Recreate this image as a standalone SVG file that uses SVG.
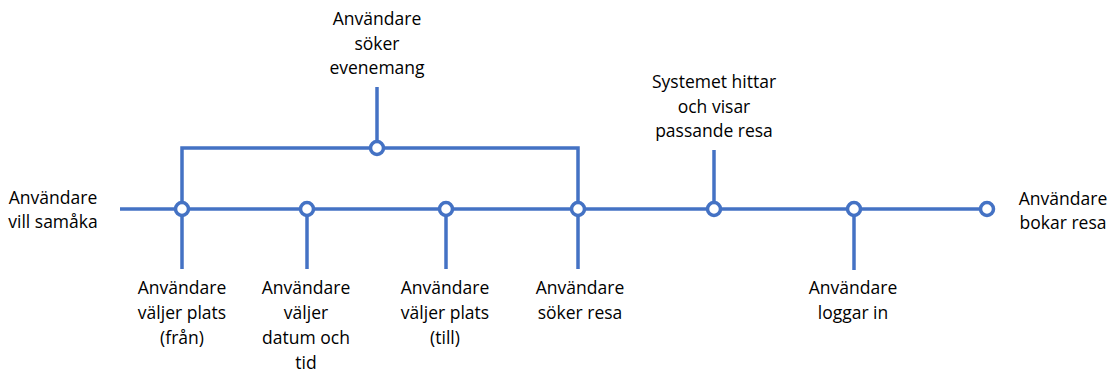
<svg xmlns="http://www.w3.org/2000/svg" width="1112" height="376" viewBox="0 0 1112 376">
  <style>
    .ln { stroke: #4472C4; stroke-width: 3.5; fill: none; }
    .pt { stroke: #4472C4; stroke-width: 3.5; fill: #ffffff; }
    .lbl { font-family: "Open Sans", "Liberation Sans", sans-serif; font-size: 17.5px; fill: #000000; text-anchor: middle; }
  </style>
  <rect width="1112" height="376" fill="#ffffff"/>

  <!-- timeline, bracket and stems -->
  <g id="connectors">
    <path class="ln" d="M120 209 H987"/>
    <path class="ln" d="M182 269 V148 H578 V269"/>
    <path class="ln" d="M377 148 V87"/>
    <path class="ln" d="M307 209 V269"/>
    <path class="ln" d="M446 209 V269"/>
    <path class="ln" d="M714 209 V150"/>
    <path class="ln" d="M854 209 V270"/>
  </g>

  <g id="start">
    <text class="lbl"><tspan x="53" y="204">Användare</tspan><tspan x="53" y="228">vill samåka</tspan></text>
  </g>

  <g id="from-place">
    <circle class="pt" cx="182" cy="209" r="6.5"/>
    <text class="lbl"><tspan x="182" y="294">Användare</tspan><tspan x="182" y="319">väljer plats</tspan><tspan x="182" y="344">(från)</tspan></text>
  </g>

  <g id="date-time">
    <circle class="pt" cx="307" cy="209" r="6.5"/>
    <text class="lbl"><tspan x="306" y="294">Användare</tspan><tspan x="306" y="319">väljer</tspan><tspan x="306" y="344">datum och</tspan><tspan x="306" y="369">tid</tspan></text>
  </g>

  <g id="event-search">
    <circle class="pt" cx="377" cy="148" r="6.5"/>
    <text class="lbl"><tspan x="377" y="25">Användare</tspan><tspan x="377" y="49.5">söker</tspan><tspan x="377" y="74">evenemang</tspan></text>
  </g>

  <g id="to-place">
    <circle class="pt" cx="446" cy="209" r="6.5"/>
    <text class="lbl"><tspan x="445" y="294">Användare</tspan><tspan x="445" y="319">väljer plats</tspan><tspan x="445" y="344">(till)</tspan></text>
  </g>

  <g id="trip-search">
    <circle class="pt" cx="578" cy="209" r="6.5"/>
    <text class="lbl"><tspan x="580" y="294">Användare</tspan><tspan x="580" y="319">söker resa</tspan></text>
  </g>

  <g id="match-found">
    <circle class="pt" cx="714" cy="209" r="6.5"/>
    <text class="lbl"><tspan x="714" y="88">Systemet hittar</tspan><tspan x="714" y="112.5">och visar</tspan><tspan x="714" y="137">passande resa</tspan></text>
  </g>

  <g id="login">
    <circle class="pt" cx="854" cy="209" r="6.5"/>
    <text class="lbl"><tspan x="853" y="294">Användare</tspan><tspan x="853" y="319">loggar in</tspan></text>
  </g>

  <g id="booking">
    <circle class="pt" cx="987" cy="209" r="6.5"/>
    <text class="lbl"><tspan x="1063" y="205">Användare</tspan><tspan x="1063" y="229">bokar resa</tspan></text>
  </g>
</svg>
